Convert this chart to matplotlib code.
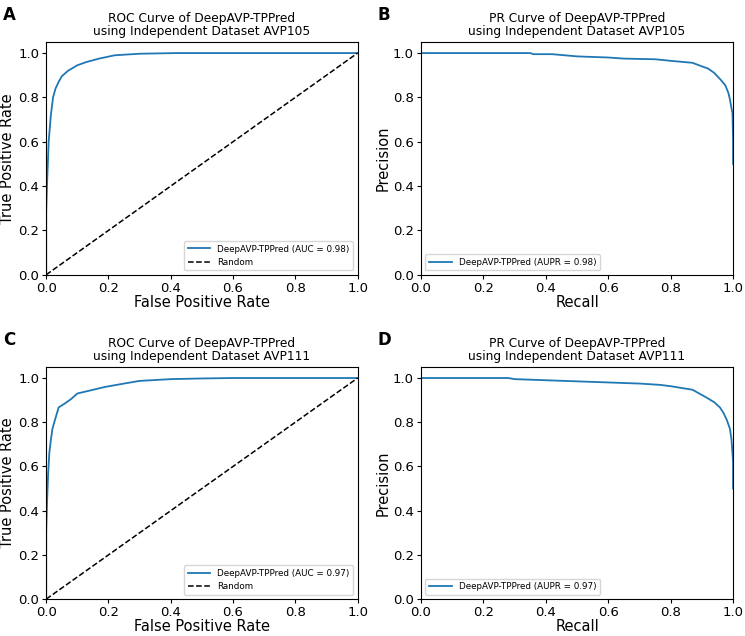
import matplotlib.pyplot as plt

# ROC curve, AVP105
roc105_fpr = [0.0, 0.0, 0.003, 0.008, 0.015, 0.022, 0.03, 0.04, 0.05, 0.07, 0.1, 0.13, 0.17, 0.22, 0.3, 0.42, 1.0]
roc105_tpr = [0.0, 0.28, 0.42, 0.6, 0.72, 0.8, 0.84, 0.87, 0.895, 0.92, 0.945, 0.96, 0.975, 0.99, 0.997, 1.0, 1.0]

# PR curve, AVP105
pr105_rec = [0.0, 0.35, 0.36, 0.42, 0.5, 0.6, 0.65, 0.75, 0.8, 0.87, 0.9, 0.92, 0.94, 0.96, 0.975, 0.985, 0.99, 0.995, 0.998, 1.0, 1.0]
pr105_prec = [1.0, 1.0, 0.995, 0.995, 0.985, 0.98, 0.975, 0.972, 0.965, 0.956, 0.94, 0.93, 0.91, 0.88, 0.855, 0.82, 0.79, 0.75, 0.73, 0.6, 0.5]

# ROC curve, AVP111
roc111_fpr = [0.0, 0.0, 0.003, 0.006, 0.01, 0.015, 0.02, 0.026, 0.04, 0.06, 0.08, 0.1, 0.13, 0.19, 0.25, 0.3, 0.4, 0.5, 0.6, 1.0]
roc111_tpr = [0.0, 0.3, 0.45, 0.56, 0.66, 0.72, 0.77, 0.8, 0.867, 0.885, 0.905, 0.93, 0.94, 0.96, 0.975, 0.987, 0.995, 0.998, 1.0, 1.0]

# PR curve, AVP111
pr111_rec = [0.0, 0.28, 0.3, 0.4, 0.5, 0.6, 0.7, 0.766, 0.8, 0.87, 0.917, 0.94, 0.958, 0.97, 0.98, 0.99, 0.995, 1.0, 1.0]
pr111_prec = [1.0, 1.0, 0.995, 0.99, 0.985, 0.98, 0.975, 0.969, 0.963, 0.947, 0.91, 0.89, 0.867, 0.84, 0.81, 0.77, 0.72, 0.62, 0.5]

panels = [
    ("A", "ROC", "AVP105", roc105_fpr, roc105_tpr, "AUC = 0.98"),
    ("B", "PR", "AVP105", pr105_rec, pr105_prec, "AUPR = 0.98"),
    ("C", "ROC", "AVP111", roc111_fpr, roc111_tpr, "AUC = 0.97"),
    ("D", "PR", "AVP111", pr111_rec, pr111_prec, "AUPR = 0.97"),
]

boxes = [
    [0.062, 0.568, 0.418, 0.366],
    [0.565, 0.568, 0.419, 0.366],
    [0.062, 0.058, 0.418, 0.365],
    [0.565, 0.058, 0.419, 0.365],
]


def make_plots():
    fig = plt.figure(figsize=(7.45, 6.36), dpi=100)

    for (lab, kind, ds, x, y, score), box in zip(panels, boxes):
        ax = fig.add_axes(box)
        ax.plot(x, y, color='#1f77b4', lw=1.3, label=f"DeepAVP-TPPred ({score})")
        if kind == "ROC":
            ax.plot([0, 1], [0, 1], 'k--', lw=1.1, label="Random")
            ax.set_xlabel("False Positive Rate", fontsize=10.5, labelpad=0)
            ax.set_ylabel("True Positive Rate", fontsize=10.5, labelpad=2)
            ax.legend(loc='lower right', fontsize=6.3, handlelength=2.6)
        else:
            ax.set_xlabel("Recall", fontsize=10.5, labelpad=0)
            ax.set_ylabel("Precision", fontsize=10.5, labelpad=2)
            ax.legend(loc='lower left', fontsize=6.3, handlelength=2.6)
        ax.set_title(f"{kind} Curve of DeepAVP-TPPred\nusing Independent Dataset {ds}",
                     fontsize=8.8, linespacing=1.0, pad=5)
        ax.set_xlim(0, 1)
        ax.set_ylim(0, 1.05)
        ax.tick_params(labelsize=9.5, length=3, pad=2)
        ax.set_xticks([0, 0.2, 0.4, 0.6, 0.8, 1.0])
        ax.set_yticks([0, 0.2, 0.4, 0.6, 0.8, 1.0])
        fig.text(box[0] - 0.058, box[1] + box[3] + 0.056, lab,
                 fontsize=12, fontweight='bold', va='top', ha='left')

    plt.savefig("out.png", dpi=100)


def main():
    make_plots()


if __name__ == "__main__":
    main()
